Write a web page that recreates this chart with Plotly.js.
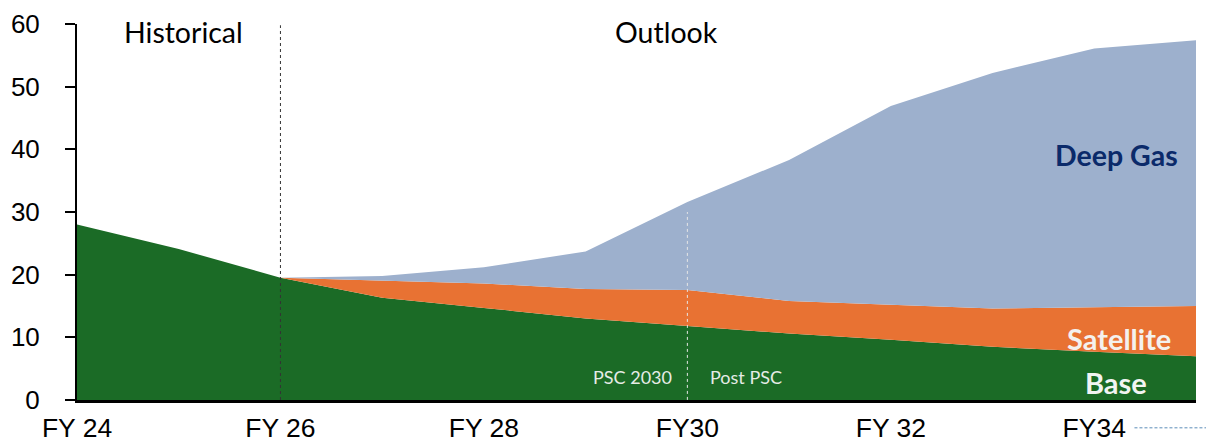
<!DOCTYPE html>
<html>
<head>
<meta charset="utf-8">
<script src="https://cdn.plot.ly/plotly-3.0.1.min.js"></script>
<style>html,body{margin:0;padding:0;background:#fff;}#chart{width:1206px;height:442px;}</style>
</head>
<body>
<div id="chart"></div>
<script>
// Fiscal years (numeric) and axis tick labels
const years = [24, 25, 26, 27, 28, 29, 30, 31, 32, 33, 34, 35];
const outlookYears = [26, 27, 28, 29, 30, 31, 32, 33, 34, 35];
const tickYears = [24, 26, 28, 30, 32, 34];
const tickLabels = ["FY 24", "FY 26", "FY 28", "FY30", "FY 32", "FY34"];

// Series values
const base = [28.0, 24.1, 19.5, 16.3, 14.7, 13.0, 11.8, 10.6, 9.6, 8.5, 7.7, 7.0];
const satellite = [0.0, 2.8, 3.9, 4.7, 5.75, 5.2, 5.6, 6.1, 7.1, 8.0];
const deepGas = [0.0, 0.7, 2.6, 6.0, 14.05, 22.5, 31.7, 37.6, 41.3, 42.4];

const traces = [
  {x: years, y: base, name: "Base", type: "scatter", mode: "lines", stackgroup: "one",
   stackgaps: "infer zero", line: {width: 0, color: "#1b6b26"}, fillcolor: "#1b6b26"},
  {x: outlookYears, y: satellite, name: "Satellite", type: "scatter", mode: "lines", stackgroup: "one",
   line: {width: 0, color: "#e87233"}, fillcolor: "#e87233"},
  {x: outlookYears, y: deepGas, name: "Deep Gas", type: "scatter", mode: "lines", stackgroup: "one",
   line: {width: 0, color: "#9db0cd"}, fillcolor: "#9db0cd"}
];

const yTickFont = {family: "Liberation Sans, Arial, sans-serif", size: 26, color: "#000"};
const xTickFont = {family: "Liberation Sans, Arial, sans-serif", size: 26.5, color: "#000"};
const labelFont = "Lato, 'Open Sans', sans-serif";

const layout = {
  width: 1206, height: 442,
  margin: {l: 77, r: 10, t: 24, b: 42},
  paper_bgcolor: "#fff", plot_bgcolor: "#fff",
  showlegend: false,
  xaxis: {
    range: [24, 35], tickmode: "array", tickvals: tickYears, ticktext: tickLabels,
    showgrid: false, zeroline: false, showline: true, linecolor: "#000", linewidth: 3,
    ticks: "", tickfont: xTickFont, ticklabelstandoff: 2
  },
  yaxis: {
    range: [0, 60], tickmode: "array", tickvals: [0, 10, 20, 30, 40, 50, 60],
    showgrid: false, zeroline: false, showline: true, linecolor: "#000", linewidth: 2,
    ticks: "outside", ticklen: 10, tickwidth: 2, tickcolor: "#000",
    tickfont: yTickFont, ticklabelstandoff: 20
  },
  shapes: [
    {type: "line", xref: "x", yref: "y", x0: 26, x1: 26, y0: 0, y1: 59.8,
     line: {color: "#333", width: 1, dash: "dot"}},
    {type: "line", xref: "x", yref: "y", x0: 30, x1: 30, y0: -1.9, y1: 30.0,
     line: {color: "#e6e6e6", width: 1, dash: "dot"}},
    {type: "line", xref: "paper", yref: "paper", x0: 0.945, x1: 1.01, y0: -0.074, y1: -0.074,
     line: {color: "#5b8db8", width: 1, dash: "3px,2px"}}
  ],
  annotations: [
    {text: "Historical", xref: "paper", yref: "paper", x: (183-77)/1119, y: (400-32)/376,
     showarrow: false, font: {family: labelFont, size: 28.5, color: "#000"}, xanchor: "center", yanchor: "middle"},
    {text: "Outlook", xref: "paper", yref: "paper", x: (666-77)/1119, y: (400-32)/376,
     showarrow: false, font: {family: labelFont, size: 28.5, color: "#000"}, xanchor: "center", yanchor: "middle"},
    {text: "<b>Deep Gas</b>", xref: "paper", yref: "paper", x: (1116-77)/1119, y: (400-155)/376,
     showarrow: false, font: {family: labelFont, size: 28.5, color: "#0b2a6a"}, xanchor: "center", yanchor: "middle"},
    {text: "<b>Satellite</b>", xref: "paper", yref: "paper", x: (1119-77)/1119, y: (400-338)/376,
     showarrow: false, font: {family: labelFont, size: 29, color: "#f4f1ee"}, xanchor: "center", yanchor: "middle"},
    {text: "<b>Base</b>", xref: "paper", yref: "paper", x: (1116-77)/1119, y: (400-382)/376,
     showarrow: false, font: {family: labelFont, size: 29, color: "#f2f4f2"}, xanchor: "center", yanchor: "middle"},
    {text: "PSC 2030", xref: "paper", yref: "paper", x: (632-77)/1119, y: (400-377)/376,
     showarrow: false, font: {family: labelFont, size: 18, color: "#e6ece6"}, xanchor: "center", yanchor: "middle"},
    {text: "Post PSC", xref: "paper", yref: "paper", x: (746-77)/1119, y: (400-377)/376,
     showarrow: false, font: {family: labelFont, size: 18, color: "#e6ece6"}, xanchor: "center", yanchor: "middle"}
  ]
};

Plotly.newPlot("chart", traces, layout, {staticPlot: true, displayModeBar: false});
</script>
</body>
</html>
